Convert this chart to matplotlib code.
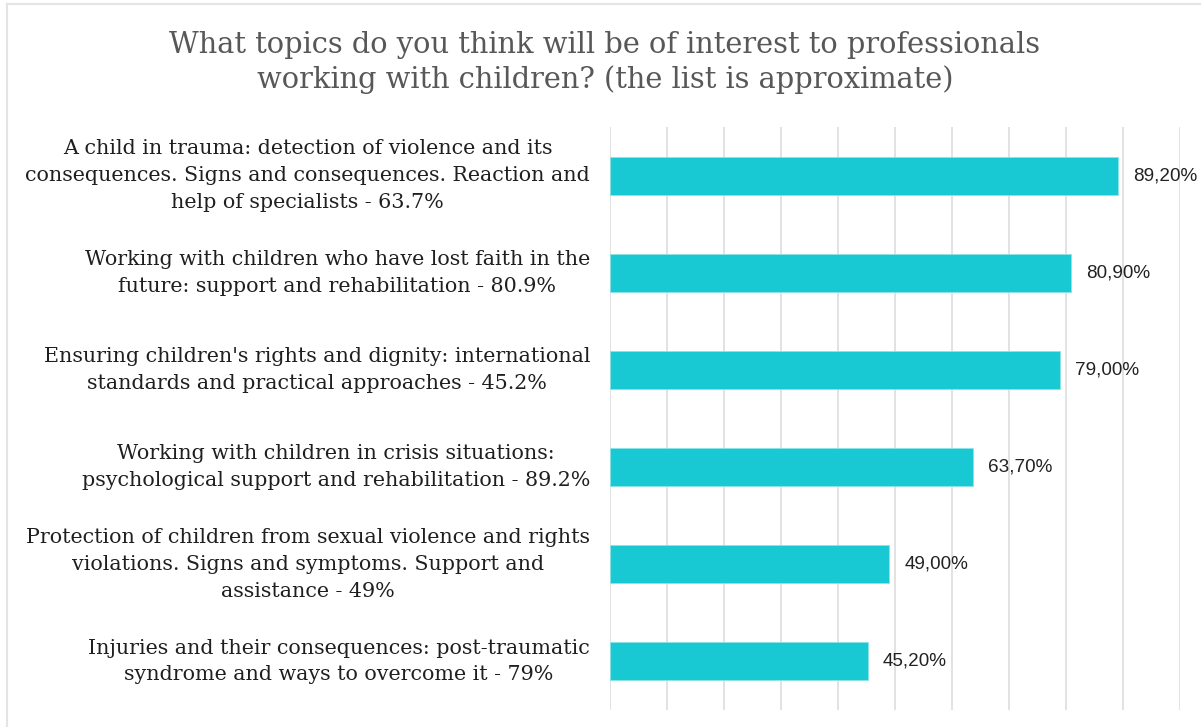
import matplotlib
matplotlib.use("Agg")
import matplotlib.pyplot as plt
from matplotlib.lines import Line2D

# Survey topics (top to bottom) and share of respondents, %
topics = [
    "A child in trauma: detection of violence and its\nconsequences. Signs and consequences. Reaction and\nhelp of specialists - 63.7%",
    "Working with children who have lost faith in the\nfuture: support and rehabilitation - 80.9%",
    "Ensuring children's rights and dignity: international\nstandards and practical approaches - 45.2%",
    "Working with children in crisis situations:\npsychological support and rehabilitation - 89.2%",
    "Protection of children from sexual violence and rights\nviolations. Signs and symptoms. Support and\nassistance - 49%",
    "Injuries and their consequences: post-traumatic\nsyndrome and ways to overcome it - 79%",
]
shares = [89.2, 80.9, 79.0, 63.7, 49.0, 45.2]
title = ("What topics do you think will be of interest to professionals\n"
         "working with children? (the list is approximate)")

W, H, DPI = 1201, 727, 100
BAR = "#18C8D3"
GRID = "#E2E2E2"
SERIF = "DejaVu Serif"
SANS = "Liberation Sans"

fig = plt.figure(figsize=(W / DPI, H / DPI), dpi=DPI, facecolor="white")
renderer = fig.canvas.get_renderer()


def px(x, y):
    return x / W, 1 - y / H


def fit_size(text, family, target_px, base=10.0):
    t = fig.text(0, 0, text, fontsize=base, family=family)
    w = t.get_window_extent(renderer).width
    t.remove()
    return base * target_px / w


# Axes box
left, right, top, bottom = 610, 1180, 127, 710
ax = fig.add_axes([left / W, 1 - bottom / H, (right - left) / W, (bottom - top) / H])
ax.set_xlim(0, 100)
ax.set_ylim(len(shares) - 0.5, -0.5)
for s in ax.spines.values():
    s.set_visible(False)
ax.set_xticks(range(0, 101, 10))
ax.set_yticks([])
ax.tick_params(axis="x", length=0, labelbottom=False)
ax.grid(axis="x", color=GRID, linewidth=1.4)
ax.set_axisbelow(True)

ypos = list(range(len(shares)))
ax.barh(ypos, shares, height=0.39, color=BAR, edgecolor="#8BE3E8", linewidth=0.6)

val_size = fit_size("89,20%", SANS, 64)
for y, v in zip(ypos, shares):
    ax.annotate(f"{v:.2f}".replace(".", ",") + "%", xy=(v, y), xytext=(15 * 72 / DPI, 0),
                textcoords="offset points", ha="left", va="center",
                fontsize=val_size, family=SANS, color="#222222")

lab_size = fit_size("consequences. Signs and consequences. Reaction and", SERIF, 567)
for y, lab in zip(ypos, topics):
    ax.annotate(lab, xy=(0, y), xytext=(-20 * 72 / DPI, 0), textcoords="offset points",
                ha="right", va="center", multialignment="center",
                fontsize=lab_size, family=SERIF, color="#1F1F1F", linespacing=1.52,
                annotation_clip=False)

title_size = fit_size("What topics do you think will be of interest to professionals", SERIF, 876)
fig.text(*px(605, 62.5), title, ha="center", va="center", multialignment="center",
         fontsize=title_size, family=SERIF, color="#585858", linespacing=1.23)

# Light frame along the top and left edges
fig.add_artist(Line2D([7 / W, 1], [1 - 4 / H, 1 - 4 / H], transform=fig.transFigure,
                      color="#E4E4E4", linewidth=1.5))
fig.add_artist(Line2D([7 / W, 7 / W], [0, 1 - 4 / H], transform=fig.transFigure,
                      color="#E4E4E4", linewidth=1.5))

fig.savefig("out.png", dpi=DPI, facecolor="white")
